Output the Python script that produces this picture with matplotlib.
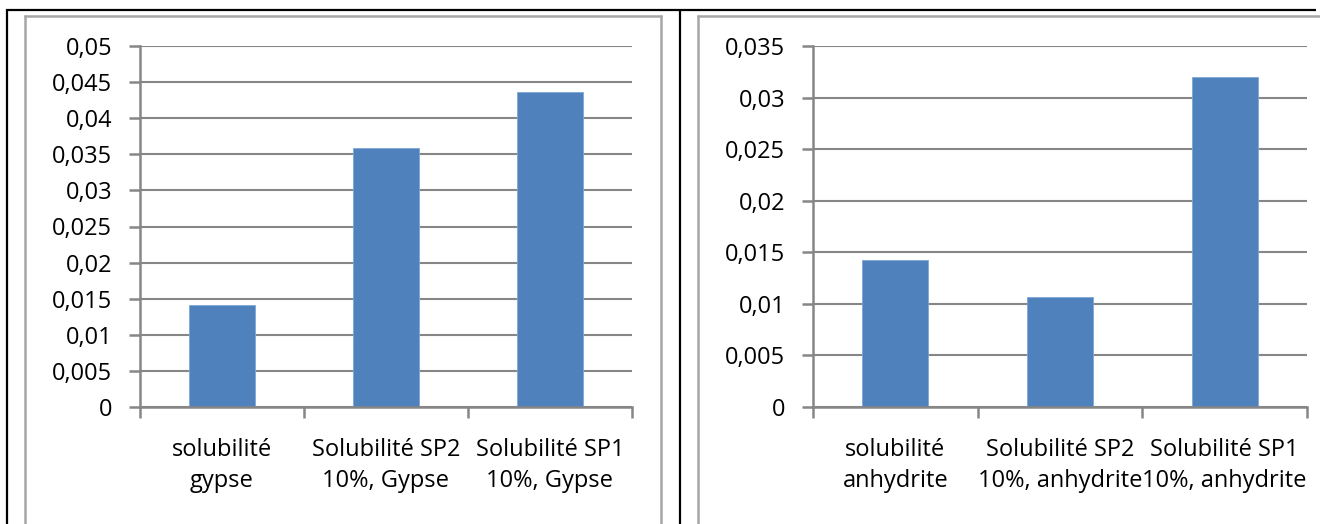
import matplotlib
matplotlib.use("Agg")
import matplotlib.pyplot as plt
from matplotlib.lines import Line2D
import numpy as np

plt.rcParams['font.family'] = ['Open Sans', 'DejaVu Sans']

cats_left = ["solubilité\ngypse", "Solubilité SP2\n10%, Gypse", "Solubilité SP1\n10%, Gypse"]
vals_left = [0.0141, 0.0359, 0.0436]
cats_right = ["solubilité\nanhydrite", "Solubilité SP2\n10%, anhydrite", "Solubilité SP1\n10%, anhydrite"]
vals_right = [0.0143, 0.0107, 0.0320]
ymax_left, ystep_left = 0.05, 0.005
ymax_right, ystep_right = 0.035, 0.005

W, H = 1320, 524
fig = plt.figure(figsize=(W / 100, H / 100), dpi=100)

def fx(x):
    return x / W

def fy(y):
    return 1 - y / H

def hline(x0, x1, y, color, lw):
    fig.add_artist(Line2D([fx(x0), fx(x1)], [fy(y), fy(y)], color=color, lw=lw,
                          transform=fig.transFigure, solid_capstyle='butt'))

def vline(x, y0, y1, color, lw):
    fig.add_artist(Line2D([fx(x), fx(x)], [fy(y0), fy(y1)], color=color, lw=lw,
                          transform=fig.transFigure, solid_capstyle='butt'))

# outer black frame
hline(6, 1316, 10, 'black', 1.6)
vline(7, 9, 524, 'black', 1.6)
vline(680, 9, 524, 'black', 1.6)
# grey chart borders
gray_b = '#a6a6a6'
hline(24, 662, 16, gray_b, 1.8)
vline(25, 15, 524, gray_b, 1.8)
vline(661, 15, 524, gray_b, 1.8)
hline(697, 1320, 16, gray_b, 1.8)
vline(698, 15, 524, gray_b, 1.8)

axis_col = '#868686'
bar_col = '#4f81bd'
FS = 17

def fmt(v):
    s = f"{v:g}"
    return s.replace('.', ',')

def make(ax_rect, cats, vals, ymax, ystep):
    x0, x1, ytop, ybot = ax_rect
    ax = fig.add_axes([fx(x0), fy(ybot), fx(x1 - x0), (ybot - ytop) / H])
    x = np.arange(len(cats))
    ax.bar(x, vals, width=0.4, color=bar_col, edgecolor='#7ea6d6', linewidth=0.6, zorder=3)
    ax.set_xlim(-0.5, len(cats) - 0.5)
    ax.set_ylim(0, ymax)
    ticks = np.round(np.arange(0, ymax + ystep / 2, ystep), 4)
    ax.set_yticks(ticks)
    ax.set_yticklabels([fmt(t) for t in ticks], fontsize=FS)
    ax.set_xticks(x)
    ax.set_xticklabels(cats, fontsize=FS, linespacing=1.42)
    ax.set_xticks(np.arange(len(cats) + 1) - 0.5, minor=True)
    ax.tick_params(axis='x', which='major', length=0, pad=22)
    ax.tick_params(axis='x', which='minor', length=8, width=1.8, color=axis_col, direction='out')
    ax.tick_params(axis='y', length=8, width=1.8, color=axis_col, direction='out', pad=12)
    ax.grid(axis='y', color=axis_col, lw=1.5, zorder=0)
    ax.set_axisbelow(True)
    for s in ['top', 'right']:
        ax.spines[s].set_visible(False)
    for s in ['left', 'bottom']:
        ax.spines[s].set_color(axis_col)
        ax.spines[s].set_linewidth(1.8)
        ax.spines[s].set_zorder(4)
    ax.set_facecolor('none')
    return ax

make((140, 632, 46, 407), cats_left, vals_left, ymax_left, ystep_left)
make((813, 1307, 46, 407), cats_right, vals_right, ymax_right, ystep_right)

fig.savefig("out.png", dpi=100)
